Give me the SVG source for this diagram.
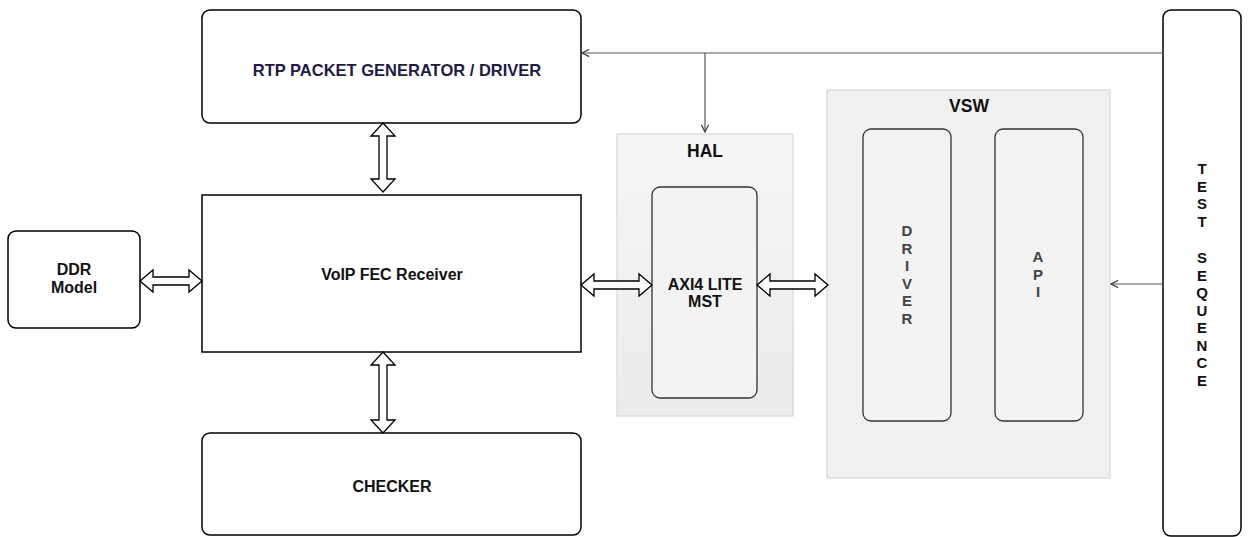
<svg xmlns="http://www.w3.org/2000/svg" width="1252" height="537" viewBox="0 0 1252 537">
<defs>
<style>
.box{fill:#fff;stroke:#000;stroke-width:1.5}
.inner{fill:#f3f3f3;stroke:#333;stroke-width:1.3}
.cont{stroke:#d0d0d0;stroke-width:1}
.t{font-family:"Liberation Sans",Arial,sans-serif;font-weight:bold;font-size:16px;fill:#111;text-anchor:middle}
.big{font-size:17.5px}
.v{font-size:15px}
.dbl{fill:#fff;stroke:#000;stroke-width:1.3;stroke-linejoin:miter}
.ln{fill:none;stroke:#555;stroke-width:1.2}
</style>
<linearGradient id="halg" x1="0" y1="0" x2="0" y2="1">
<stop offset="0" stop-color="#f6f6f6"/>
<stop offset="1" stop-color="#ebebeb"/>
</linearGradient>
<marker id="oa" viewBox="0 0 10 10" refX="9" refY="5" markerWidth="9" markerHeight="9" orient="auto" markerUnits="userSpaceOnUse">
<path d="M1,1 L9,5 L1,9" fill="none" stroke="#444" stroke-width="1.4"/>
</marker>
</defs>
<rect width="1252" height="537" fill="#fff"/>

<g id="hal">
<rect x="617" y="134" width="176" height="282" fill="url(#halg)" class="cont"/>
<text x="705" y="157" class="t big">HAL</text>
</g>
<g id="vsw">
<rect x="827" y="90" width="283" height="388" fill="#f0f0f0" class="cont"/>
<text x="969" y="112" class="t big">VSW</text>
</g>

<g id="rtp">
<rect x="202" y="10" width="379" height="113" rx="8" class="box"/>
<text x="397" y="76" class="t" style="fill:#1e1a4a;font-size:16.5px">RTP PACKET GENERATOR / DRIVER</text>
</g>
<g id="voip">
<rect x="202" y="195" width="379" height="157" class="box"/>
<text x="392" y="280" class="t">VoIP FEC Receiver</text>
</g>
<g id="checker">
<rect x="202" y="433" width="379" height="102" rx="8" class="box"/>
<text x="392" y="492" class="t">CHECKER</text>
</g>
<g id="ddr">
<rect x="8" y="231" width="132" height="97" rx="8" class="box"/>
<text x="74" y="275" class="t">DDR</text>
<text x="74" y="293" class="t">Model</text>
</g>
<g id="axi">
<rect x="652" y="187" width="105" height="211" rx="8" class="inner"/>
<text x="705" y="290" class="t">AXI4 LITE</text>
<text x="705" y="307" class="t">MST</text>
</g>
<g id="driver">
<rect x="863" y="129" width="88" height="292" rx="8" class="inner"/>
<text x="907" class="t v" style="fill:#444">
<tspan x="907" y="236">D</tspan><tspan x="907" y="253.5">R</tspan><tspan x="907" y="271">I</tspan><tspan x="907" y="288.5">V</tspan><tspan x="907" y="306">E</tspan><tspan x="907" y="323.5">R</tspan>
</text>
</g>
<g id="api">
<rect x="995" y="129" width="88" height="292" rx="8" class="inner"/>
<text x="1038" class="t v" style="fill:#444">
<tspan x="1038" y="262">A</tspan><tspan x="1038" y="279.5">P</tspan><tspan x="1038" y="297">I</tspan>
</text>
</g>
<g id="testseq">
<rect x="1163" y="10" width="78" height="526" rx="8" class="box"/>
<text x="1202" class="t v">
<tspan x="1202" y="174">T</tspan><tspan x="1202" y="191.5">E</tspan><tspan x="1202" y="209">S</tspan><tspan x="1202" y="226.5">T</tspan><tspan x="1202" y="263">S</tspan><tspan x="1202" y="280.5">E</tspan><tspan x="1202" y="298">Q</tspan><tspan x="1202" y="315.5">U</tspan><tspan x="1202" y="333">E</tspan><tspan x="1202" y="350.5">N</tspan><tspan x="1202" y="368">C</tspan><tspan x="1202" y="385.5">E</tspan>
</text>
</g>

<g id="connectors">
<path class="ln" d="M1163,53 L582,53" marker-end="url(#oa)"/>
<path class="ln" d="M705,53 L705,132" marker-end="url(#oa)"/>
<path class="ln" d="M1163,284 L1111,284" marker-end="url(#oa)"/>
<path class="dbl" d="M383,123 L395,136 L387,136 L387,179 L395,179 L383,192 L371,179 L379,179 L379,136 L371,136 Z"/>
<path class="dbl" d="M383,352 L395,365 L387,365 L387,420 L395,420 L383,433 L371,420 L379,420 L379,365 L371,365 Z"/>
<path class="dbl" d="M140,281 L153,270 L153,277 L189,277 L189,270 L202,281 L189,292 L189,285 L153,285 L153,292 Z"/>
<path class="dbl" d="M581,285 L594,274 L594,281 L639,281 L639,274 L652,285 L639,296 L639,289 L594,289 L594,296 Z"/>
<path class="dbl" d="M757,285 L770,274 L770,281 L815,281 L815,274 L828,285 L815,296 L815,289 L770,289 L770,296 Z"/>
</g>
</svg>
